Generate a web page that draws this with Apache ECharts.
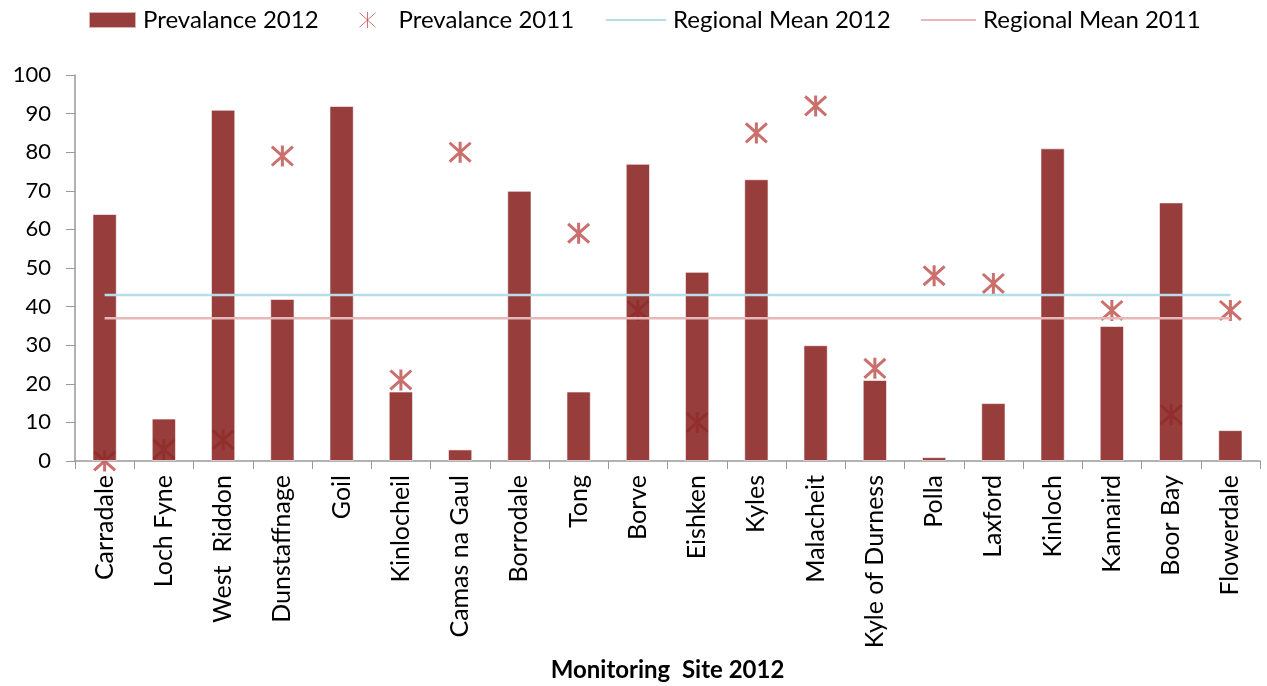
<!DOCTYPE html>
<html>
<head>
<meta charset="utf-8">
<script src="https://cdn.jsdelivr.net/npm/echarts@6/dist/echarts.min.js"></script>
<style>
html, body { margin: 0; padding: 0; background: #fff; }
#chart { width: 1267px; height: 686px; }
</style>
</head>
<body>
<div id="chart"></div>
<script>
const sites = ['Carradale', 'Loch Fyne', 'West  Riddon', 'Dunstaffnage', 'Goil', 'Kinlocheil',
  'Camas na Gaul', 'Borrodale', 'Tong', 'Borve', 'Eishken', 'Kyles', 'Malacheit',
  'Kyle of Durness', 'Polla', 'Laxford', 'Kinloch', 'Kannaird', 'Boor Bay', 'Flowerdale'];
const prev2012 = [64, 11, 91, 42, 92, 18, 3, 70, 18, 77, 49, 73, 30, 21, 1, 15, 81, 35, 67, 8];
const prev2011 = [0, 3, 5.5, 79, null, 21, 80, null, 59, 39, 10, 85, 92, 24, 48, 46, null, 39, 12, 39];
const mean2012 = 43;
const mean2011 = 37;

const fontFam = 'Lato, "Open Sans", sans-serif';
// six-armed asterisk
const star = 'path://M0,-10 L0,10 M-10,-9 L10,9 M-10,9 L10,-9';

// one legend per item so each sits where the original has it
function legendAt(left, width, item) {
  return {
    top: 8, left: left, padding: 0,
    itemWidth: width, itemHeight: 16, itemGap: 0,
    textStyle: { fontSize: 24, color: '#000', fontFamily: fontFam, padding: [0, 0, 0, 2] },
    data: [item]
  };
}

let myChart = echarts.init(document.getElementById('chart'));
myChart.setOption({
  animation: false,
  textStyle: { fontFamily: fontFam },
  legend: [
    legendAt(88, 47, { name: 'Prevalance 2012', icon: 'rect' }),
    legendAt(359, 48, { name: 'Prevalance 2011', icon: star, itemStyle: { color: 'transparent', borderColor: '#C0504D', borderWidth: 1 } }),
    legendAt(605, 60, { name: 'Regional Mean 2012', itemStyle: { opacity: 0 } }),
    legendAt(920, 55, { name: 'Regional Mean 2011', itemStyle: { opacity: 0 } })
  ],
  grid: { left: 75, right: 7, top: 75, bottom: 225, outerBoundsMode: 'none', containLabel: false },
  xAxis: {
    type: 'category',
    data: sites,
    name: 'Monitoring  Site 2012',
    nameLocation: 'middle',
    nameGap: 197,
    nameTextStyle: { fontSize: 24, fontWeight: 'bold', color: '#000', fontFamily: fontFam },
    axisLine: { lineStyle: { color: '#999', width: 1.5 } },
    axisTick: { show: true, length: 8, lineStyle: { color: '#999' } },
    axisLabel: { rotate: 90, fontSize: 25, color: '#000', margin: 14, interval: 0 }
  },
  yAxis: {
    type: 'value',
    min: 0,
    max: 100,
    interval: 10,
    axisLine: { show: true, lineStyle: { color: '#999', width: 1.5 } },
    axisTick: { show: true, length: 9, lineStyle: { color: '#999' } },
    splitLine: { show: false },
    axisLabel: { fontSize: 22, color: '#000', margin: 24 }
  },
  series: [
    {
      name: 'Prevalance 2011',
      type: 'scatter',
      data: prev2011,
      symbol: star,
      symbolSize: 21,
      z: 1,
      itemStyle: { color: 'transparent', borderColor: '#BE4B48', borderWidth: 3 }
    },
    {
      name: 'Prevalance 2012',
      type: 'bar',
      data: prev2012,
      barWidth: '41%',
      z: 2,
      itemStyle: { color: 'rgba(140,40,38,0.9)', borderColor: 'rgba(255,255,255,0.6)', borderWidth: 1 }
    },
    {
      name: 'Regional Mean 2012',
      type: 'line',
      data: sites.map(() => mean2012),
      symbol: 'none',
      z: 3,
      color: '#B7DDE8',
      lineStyle: { color: '#B7DDE8', width: 2.5 }
    },
    {
      name: 'Regional Mean 2011',
      type: 'line',
      data: sites.map(() => mean2011),
      symbol: 'none',
      z: 3,
      color: '#E6B9B8',
      lineStyle: { color: '#E6B9B8', width: 2.5 }
    }
  ]
});
</script>
</body>
</html>
